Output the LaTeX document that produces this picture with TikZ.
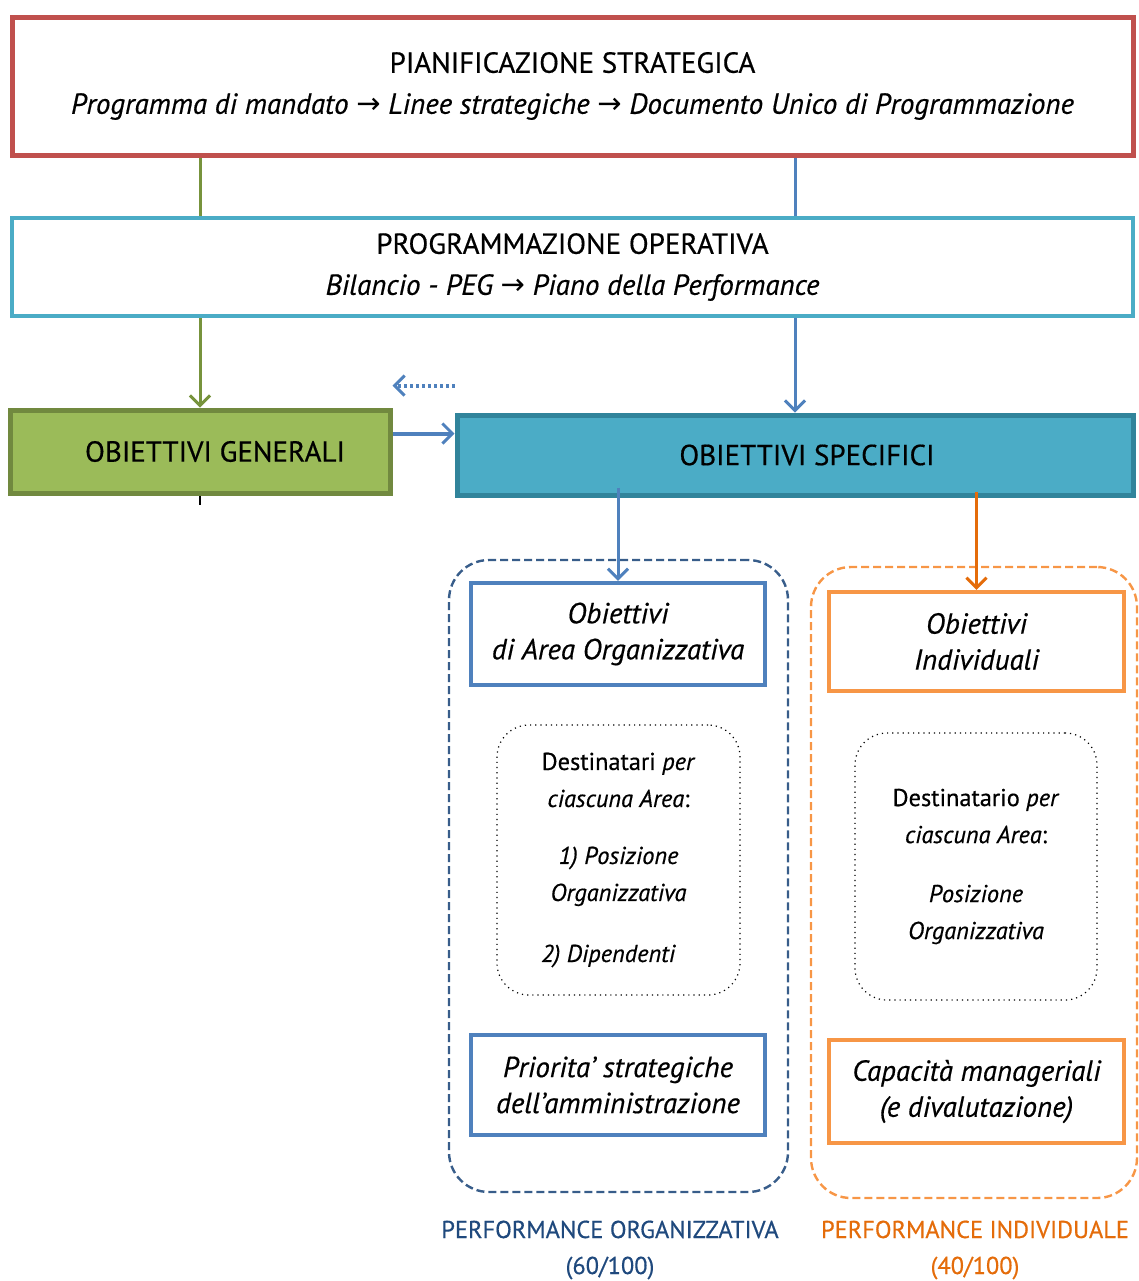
\documentclass[tikz,border=0pt]{standalone}
\usepackage{fontspec}
\setmainfont{PT Sans}[FakeBold=0.5]
\newfontfamily\arrowfont{DejaVu Sans}
\newcommand{\toArrow}{{\arrowfont\itshape →}}
\usetikzlibrary{positioning, calc, arrows.meta}
\definecolor{planRed}{HTML}{C0504D}
\definecolor{progCyan}{HTML}{4BACC6}
\definecolor{genFill}{HTML}{9BBB59}
\definecolor{genBorder}{HTML}{71893F}
\definecolor{specFill}{HTML}{4BACC6}
\definecolor{specBorder}{HTML}{31849B}
\definecolor{lineGreen}{HTML}{77933C}
\definecolor{lineBlue}{HTML}{4F81BD}
\definecolor{orgDash}{HTML}{385D8A}
\definecolor{indOrange}{HTML}{F79646}
\definecolor{arrowOrange}{HTML}{E46C0A}
\definecolor{labelBlue}{HTML}{1F497D}
\tikzstyle{mainBox}=[draw, line width=2.5pt, align=center, inner sep=0pt, font=\fontsize{14.5}{20.5}\selectfont]
\tikzstyle{goalBox}=[draw, line width=2.2pt, align=center, inner sep=0pt, font=\fontsize{14.5}{18}\selectfont\itshape]
\tikzstyle{groupBox}=[draw, dash pattern=on 4pt off 2pt, line width=1.2pt, rounded corners=20pt, inner sep=0pt]
\tikzstyle{noteBox}=[draw, dotted, line width=0.6pt, rounded corners=16pt, align=center, inner sep=0pt, font=\fontsize{12.2}{18.5}\selectfont]
\tikzstyle{perfLabel}=[align=center, font=\fontsize{12.2}{18}\selectfont]
\tikzstyle{flowArrow}=[-{Straight Barb[length=5pt,width=10pt,line width=1.5pt]}, line width=1.5pt]

\begin{document}
\begin{tikzpicture}[x=0.5pt,y=-0.5pt]
        \useasboundingbox (0,0) rectangle (1139,1281);

        \node[mainBox, planRed, text=black, minimum width=560.5pt, minimum height=69pt] (plan) at (572.5, 86)
            {PIANIFICAZIONE STRATEGICA\\\textit{Programma di mandato \toArrow\ Linee strategiche \toArrow\ Documento Unico di Programmazione}};
        \node[mainBox, progCyan, text=black, line width=2.2pt, minimum width=560.5pt, minimum height=49pt] (prog) at (572.5, 267)
            {PROGRAMMAZIONE OPERATIVA\\\textit{Bilancio - PEG \toArrow\ Piano della Performance}};

        \node[mainBox, draw=genBorder, fill=genFill, minimum width=190pt, minimum height=41.5pt] (gen) at (200, 451.5) {\hspace{15pt}OBIETTIVI GENERALI};
        \node[mainBox, draw=specBorder, fill=specFill, minimum width=338pt, minimum height=40pt] (spec) at (795, 455) {\hspace{12pt}OBIETTIVI SPECIFICI};

        \node[groupBox, orgDash, minimum width=169.5pt, minimum height=316pt] (orgGroup) at (618.5, 876) {};
        \node[groupBox, indOrange, minimum width=163pt, minimum height=315.5pt] (indGroup) at (974, 882.5) {};

        \node[goalBox, lineBlue, text=black, minimum width=147pt, minimum height=51pt] (areaGoal) at (618, 634)
            {Obiettivi\\di Area Organizzativa};
        \node[goalBox, indOrange, text=black, minimum width=147.5pt, minimum height=49.5pt] (indGoal) at (976.5, 641.5)
            {Obiettivi\\Individuali};

        \node[noteBox, minimum width=121.5pt, minimum height=135pt] (areaNote) at (618.5, 860)
            {Destinatari \textit{per}\\\textit{ciascuna Area}:\\[10pt]\textit{1) Posizione}\\\textit{Organizzativa}\\[12pt]\hspace*{-10pt}\textit{2) Dipendenti}};
        \node[noteBox, minimum width=121pt, minimum height=133.5pt] (indNote) at (976, 866.5)
            {Destinatario \textit{per}\\\textit{ciascuna Area}:\\[11pt]\textit{Posizione}\\\textit{Organizzativa}};

        \node[goalBox, lineBlue, text=black, minimum width=147pt, minimum height=50pt] (prioGoal) at (618, 1085)
            {Priorita' strategiche\\dell'amministrazione};
        \node[goalBox, indOrange, text=black, minimum width=147.5pt, minimum height=51.5pt] (capGoal) at (976.5, 1091.5)
            {Capacità manageriali\\(e divalutazione)};

        \node[perfLabel, text=labelBlue] (orgPerf) at (610, 1250) {PERFORMANCE ORGANIZZATIVA\\(60/100)};
        \node[perfLabel, text=arrowOrange] (indPerf) at (975, 1250) {PERFORMANCE INDIVIDUALE\\(40/100)};

        \draw[lineGreen, line width=1.5pt] (gen.north |- plan.south) -- (gen.north |- prog.north);
        \draw[lineBlue, line width=1.5pt] (spec.north |- plan.south) -- (spec.north |- prog.north);

        \draw[flowArrow, lineGreen] (gen.north |- prog.south) -- (gen.north);
        \draw[flowArrow, lineBlue] (spec.north |- prog.south) -- (spec.north);

        \draw[flowArrow, lineBlue, line width=2pt] ([yshift=9pt]gen.east) -- ([yshift=9pt]gen.east -| spec.west);
        \draw[flowArrow, lineBlue, line width=2pt, dash pattern=on 1.5pt off 1.5pt] ([yshift=13.5pt]spec.north west) -- ([yshift=13.5pt]spec.north west -| gen.east);
        \draw[line width=0.8pt] (gen.south) -- ++(0, 9);

        \draw[flowArrow, lineBlue] ([yshift=5pt]areaGoal.north |- spec.south) -- (areaGoal.north);
        \draw[flowArrow, arrowOrange] ([yshift=3pt]indGoal.north |- spec.south) -- (indGoal.north);

    \end{tikzpicture}
\end{document}
